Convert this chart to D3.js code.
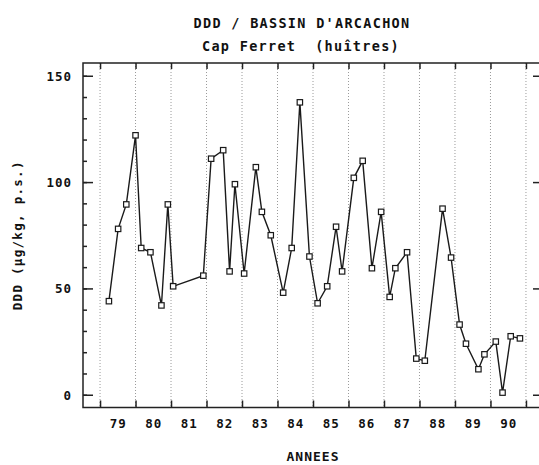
<!DOCTYPE html>
<html>
<head>
<meta charset="utf-8">
<script src="https://cdn.jsdelivr.net/npm/d3@7"></script>
<style>
  html, body { margin: 0; padding: 0; background: #fff; }
  svg { display: block; }
  text { font-family: "DejaVu Sans Mono", monospace; fill: #111; }
</style>
</head>
<body>
<svg id="chart" width="539" height="465"></svg>
<script>
// DDD concentrations in oysters, Cap Ferret (Bassin d'Arcachon), 1979-1990
const sampleDates = [
  1979.25, 1979.51, 1979.74, 1980.00, 1980.16, 1980.42, 1980.73, 1980.91,
  1981.06, 1981.91, 1982.13, 1982.47, 1982.65, 1982.80, 1983.06, 1983.39,
  1983.56, 1983.81, 1984.16, 1984.40, 1984.63, 1984.90, 1985.13, 1985.40,
  1985.65, 1985.82, 1986.15, 1986.40, 1986.66, 1986.92, 1987.16, 1987.32,
  1987.65, 1987.91, 1988.15, 1988.65, 1988.89, 1989.13, 1989.31, 1989.66,
  1989.83, 1990.15, 1990.34, 1990.57, 1990.83
];
const dddValues = [
  44, 78, 89.5, 122, 69, 67, 42, 89.5,
  51, 56, 111, 115, 58, 99, 57, 107,
  86, 75, 48, 69, 137.5, 65, 43, 51,
  79, 58, 102, 110, 59.5, 86, 46, 59.5,
  67, 17, 16, 87.5, 64.5, 33, 24, 12,
  19, 25, 1, 27.5, 26.5
];
const yearTicks = d3.range(1979, 1992);          // year boundaries
const yearLabels = d3.range(1979, 1991);         // labelled years
const yMajorTicks = [0, 50, 100, 150];
const yMinorTicks = d3.range(0, 151, 10);

const titleLine1 = "DDD / BASSIN D'ARCACHON";
const titleLine2 = "Cap Ferret  (huîtres)";
const yTitle = "DDD (µg/kg, p.s.)";
const xTitle = "ANNEES";

const svg = d3.select("#chart");
const plot = { left: 83, right: 543, top: 63, bottom: 407.5 };

const x = d3.scaleLinear().domain([1978.52, 1991.48]).range([plot.left, plot.right]);
const y = d3.scaleLinear().domain([-6, 156]).range([plot.bottom, plot.top]);

// dotted year grid
svg.append("g")
  .selectAll("line")
  .data(yearTicks)
  .join("line")
  .attr("x1", d => x(d)).attr("x2", d => x(d))
  .attr("y1", plot.top).attr("y2", plot.bottom)
  .attr("stroke", "#9a9a9a")
  .attr("stroke-width", 1)
  .attr("stroke-dasharray", "1,2");

// frame
svg.append("rect")
  .attr("x", plot.left).attr("y", plot.top)
  .attr("width", plot.right - plot.left).attr("height", plot.bottom - plot.top)
  .attr("fill", "none").attr("stroke", "#222").attr("stroke-width", 1.5);

function styleAxis(g) {
  g.select(".domain").remove();
  g.selectAll(".tick line").attr("stroke", "#222").attr("stroke-width", 1.5);
}

// left axis: minor then major ticks with labels
svg.append("g").attr("transform", `translate(${plot.left},0)`)
  .call(d3.axisLeft(y).tickValues(yMinorTicks).tickSize(-4).tickFormat(""))
  .call(styleAxis);
svg.append("g").attr("transform", `translate(${plot.left},0)`)
  .call(d3.axisLeft(y).tickValues(yMajorTicks).tickSize(-10).tickPadding(11).tickFormat(d3.format("d")))
  .call(styleAxis)
  .call(g => g.selectAll("text")
    .style("font-size", "12.5px").style("font-weight", "bold")
    .style("letter-spacing", "1px").attr("dy", "0.36em"));

// right axis ticks
svg.append("g").attr("transform", `translate(${plot.right},0)`)
  .call(d3.axisRight(y).tickValues(yMinorTicks).tickSize(-4).tickFormat(""))
  .call(styleAxis);
svg.append("g").attr("transform", `translate(${plot.right},0)`)
  .call(d3.axisRight(y).tickValues(yMajorTicks).tickSize(-10).tickFormat(""))
  .call(styleAxis);

// bottom and top year ticks
svg.append("g").attr("transform", `translate(0,${plot.bottom})`)
  .call(d3.axisBottom(x).tickValues(yearTicks).tickSize(-7).tickFormat(""))
  .call(styleAxis);
svg.append("g").attr("transform", `translate(0,${plot.top})`)
  .call(d3.axisTop(x).tickValues(yearTicks).tickSize(-6).tickFormat(""))
  .call(styleAxis);

// year labels centred in each year
svg.append("g").attr("transform", `translate(0,${plot.bottom})`)
  .call(d3.axisBottom(x).tickValues(yearLabels.map(d => d + 0.5)).tickSize(0).tickPadding(12)
    .tickFormat(d => String(Math.floor(d) % 100).padStart(2, "0")))
  .call(g => g.select(".domain").remove())
  .call(g => g.selectAll("text")
    .style("font-size", "12.5px").style("font-weight", "bold").style("letter-spacing", "1px"));

// data line and square markers
const line = d3.line().x((d, i) => x(sampleDates[i])).y(d => y(d));
svg.append("path")
  .datum(dddValues)
  .attr("d", line)
  .attr("fill", "none").attr("stroke", "#1a1a1a").attr("stroke-width", 1.4);

svg.append("g")
  .selectAll("rect")
  .data(dddValues)
  .join("rect")
  .attr("x", (d, i) => x(sampleDates[i]) - 2.7)
  .attr("y", d => y(d) - 2.7)
  .attr("width", 5.4).attr("height", 5.4)
  .attr("fill", "#fff").attr("stroke", "#1a1a1a").attr("stroke-width", 1.2);

// titles
svg.append("text").attr("x", 302).attr("y", 28).attr("text-anchor", "middle")
  .style("font-size", "13.5px").style("letter-spacing", "1.3px").style("font-weight", "bold")
  .text(titleLine1);
svg.append("text").attr("x", 301).attr("y", 51).attr("text-anchor", "middle")
  .style("font-size", "13.5px").style("letter-spacing", "1.3px").style("font-weight", "bold")
  .style("white-space", "pre").attr("xml:space", "preserve")
  .text(titleLine2);
svg.append("text").attr("x", 313).attr("y", 461).attr("text-anchor", "middle")
  .style("font-size", "13px").style("letter-spacing", "1px").style("font-weight", "bold")
  .text(xTitle);
svg.append("text")
  .attr("transform", `translate(22,${(plot.top + plot.bottom) / 2}) rotate(-90)`)
  .attr("text-anchor", "middle")
  .style("font-size", "12.5px").style("letter-spacing", "1.3px").style("font-weight", "bold")
  .text(yTitle);
</script>
</body>
</html>
